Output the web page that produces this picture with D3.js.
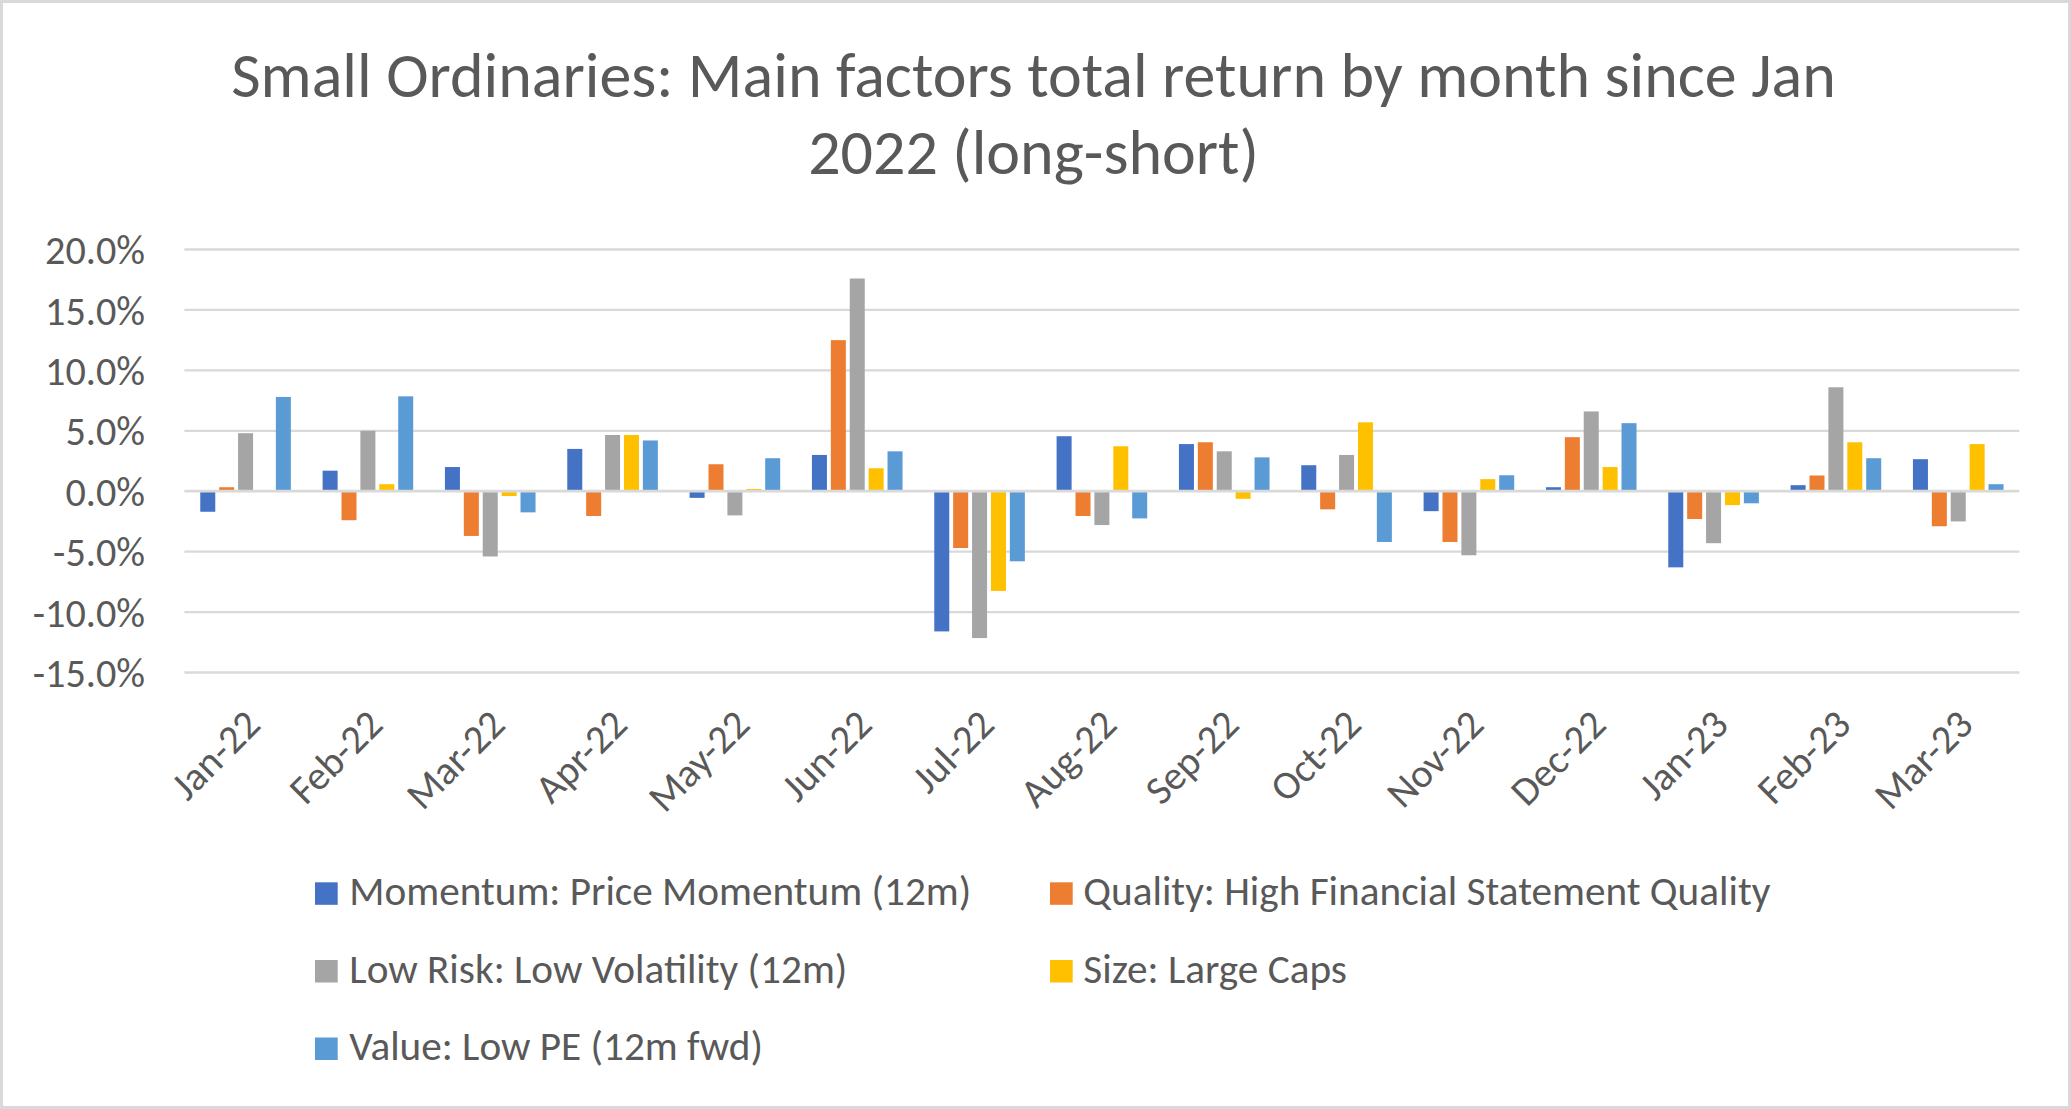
<!DOCTYPE html>
<html>
<head>
<meta charset="utf-8">
<script src="https://cdn.jsdelivr.net/npm/d3@7"></script>
<style>
  html, body { margin: 0; padding: 0; background: #fff; }
  svg { display: block; }
  text { font-family: Carlito, Calibri, Lato, sans-serif; fill: #595959; }
</style>
</head>
<body>
<svg id="chart" width="2071" height="1109"></svg>
<script>
const titleLines = ["Small Ordinaries: Main factors total return by month since Jan", "2022 (long-short)"];
const months = ["Jan-22","Feb-22","Mar-22","Apr-22","May-22","Jun-22","Jul-22","Aug-22","Sep-22","Oct-22","Nov-22","Dec-22","Jan-23","Feb-23","Mar-23"];
const seriesNames = ["Momentum: Price Momentum (12m)", "Quality: High Financial Statement Quality", "Low Risk: Low Volatility (12m)", "Size: Large Caps", "Value: Low PE (12m fwd)"];
const seriesColors = ["#4472C4", "#ED7D31", "#A5A5A5", "#FFC000", "#5B9BD5"];
const momentum = [-1.7, 1.7, 2.0, 3.5, -0.55, 3.0, -11.6, 4.55, 3.9, 2.15, -1.65, 0.33, -6.3, 0.5, 2.65];
const quality  = [0.33, -2.4, -3.7, -2.05, 2.23, 12.5, -4.7, -2.05, 4.05, -1.5, -4.2, 4.47, -2.3, 1.3, -2.9];
const lowRisk  = [4.8, 5.0, -5.4, 4.65, -2.0, 17.6, -12.15, -2.8, 3.3, 3.0, -5.3, 6.6, -4.3, 8.6, -2.5];
const sizeLC   = [0, 0.58, -0.4, 4.65, 0.19, 1.9, -8.25, 3.72, -0.63, 5.7, 1.0, 2.0, -1.15, 4.05, 3.9];
const valuePE  = [7.8, 7.85, -1.75, 4.2, 2.73, 3.3, -5.8, -2.25, 2.8, -4.2, 1.32, 5.63, -1.0, 2.73, 0.58];
const yTicks = [-15, -10, -5, 0, 5, 10, 15, 20];

const seriesValues = [momentum, quality, lowRisk, sizeLC, valuePE];

const W = 2071, H = 1109;
const plot = { left: 184.4, right: 2019.4, top: 249.5, bottom: 672.5 };
const svg = d3.select("#chart");

svg.append("rect").attr("x", 1.5).attr("y", 1.5).attr("width", W - 3).attr("height", H - 3)
  .attr("fill", "#fff").attr("stroke", "#d9d9d9").attr("stroke-width", 3);

function fitFont(sel, target, base) {
  sel.style("font-size", base + "px");
  const w = sel.node().getComputedTextLength();
  const fs = base * target / w;
  sel.style("font-size", fs + "px");
  return fs;
}

const t1 = svg.append("text").attr("x", 1033.5).attr("y", 96.7).attr("text-anchor", "middle").text(titleLines[0]);
const titleFs = fitFont(t1, 1605, 58);
svg.append("text").attr("x", 1033.5).attr("y", 174).attr("text-anchor", "middle")
  .style("font-size", titleFs + "px").text(titleLines[1]);

const y = d3.scaleLinear().domain([-15, 20]).range([plot.bottom, plot.top]);
const x0 = d3.scaleBand().domain(months).range([plot.left, plot.right]).padding(0);
const groupW = 90.6;
const gOff = (x0.bandwidth() - groupW) / 2;
const x1 = d3.scaleBand().domain(d3.range(seriesNames.length)).range([gOff, gOff + groupW]).paddingInner(0.206).paddingOuter(0);

const probe = svg.append("text").text("20.0%");
const axisFs = fitFont(probe, 100, 36);
probe.remove();

svg.append("g").selectAll("line").data(yTicks.filter(d => d !== 0)).join("line")
  .attr("x1", plot.left).attr("x2", plot.right)
  .attr("y1", d => y(d)).attr("y2", d => y(d))
  .attr("stroke", "#d9d9d9").attr("stroke-width", 2.3);

const yAxis = d3.axisLeft(y).tickValues(yTicks).tickSize(0).tickPadding(0)
  .tickFormat(d => d.toFixed(1) + "%");
const yg = svg.append("g").attr("transform", `translate(145,0)`).call(yAxis);
yg.select(".domain").remove();
yg.selectAll("text").attr("x", 0).attr("dy", "0.35em")
  .style("font-size", axisFs + "px").style("font-family", null).attr("fill", "#595959");

const groups = svg.append("g").selectAll("g").data(months).join("g")
  .attr("transform", d => `translate(${x0(d)},0)`);
groups.selectAll("rect").data((m, i) => seriesValues.map((vals, s) => ({ s, v: vals[i] }))).join("rect")
  .attr("x", d => x1(d.s))
  .attr("width", x1.bandwidth())
  .attr("y", d => y(Math.max(0, d.v)))
  .attr("height", d => Math.abs(y(d.v) - y(0)))
  .attr("fill", d => seriesColors[d.s]);

svg.append("line").attr("x1", plot.left).attr("x2", plot.right)
  .attr("y1", y(0)).attr("y2", y(0)).attr("stroke", "#d9d9d9").attr("stroke-width", 2.7);

const xAxis = d3.axisBottom(x0).tickSize(0).tickPadding(0);
const xg = svg.append("g").call(xAxis);
xg.select(".domain").remove();
xg.selectAll(".tick").attr("transform", d => `translate(${x0(d) + x0.bandwidth() / 2 + 7},717)`);
xg.selectAll("text").attr("x", 0).attr("y", 0).attr("dy", "0.35em")
  .attr("text-anchor", "end").attr("transform", "rotate(-45)")
  .style("font-size", axisFs + "px").style("font-family", null).attr("fill", "#595959");

const legendPos = [
  { sx: 315, tx: 349.3, sy: 882.3 },
  { sx: 1050, tx: 1083.3, sy: 882.3 },
  { sx: 315, tx: 349.3, sy: 960 },
  { sx: 1050, tx: 1083.3, sy: 960 },
  { sx: 315, tx: 349.3, sy: 1037.5 }
];
const lprobe = svg.append("text").text(seriesNames[0]);
const legFs = fitFont(lprobe, 622, 34);
lprobe.remove();
const leg = svg.append("g").selectAll("g").data(seriesNames).join("g");
leg.append("rect").attr("x", (d, i) => legendPos[i].sx).attr("y", (d, i) => legendPos[i].sy)
  .attr("width", 22.7).attr("height", 22.5).attr("fill", (d, i) => seriesColors[i]);
leg.append("text").attr("x", (d, i) => legendPos[i].tx).attr("y", (d, i) => legendPos[i].sy + 22.7)
  .style("font-size", legFs + "px").text(d => d);
</script>
</body>
</html>
